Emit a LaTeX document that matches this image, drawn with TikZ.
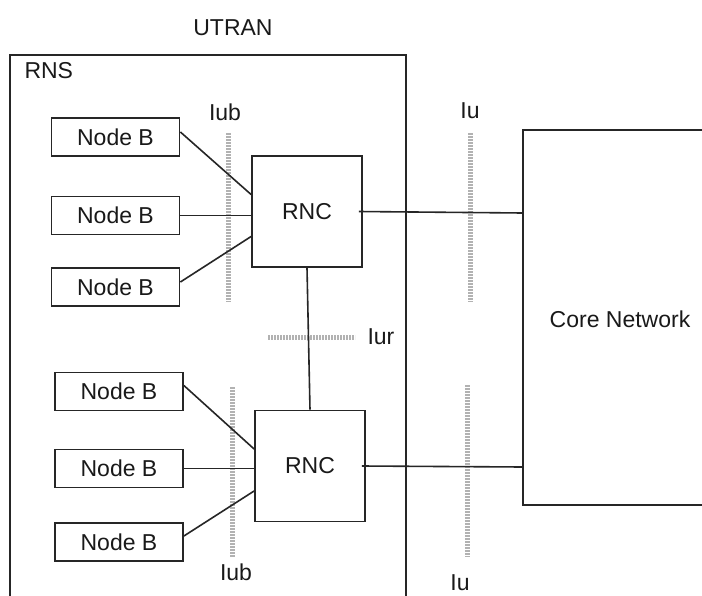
\documentclass[tikz,border=0pt]{standalone}
\usepackage{fontspec}
\setmainfont{Liberation Sans}
\begin{document}
\begin{tikzpicture}[x=1pt,y=-1pt,
  every node/.style={font=\fontsize{23}{26}\selectfont, text=black!90},
  box/.style={draw=black!85, line width=1.8pt, inner sep=0pt},
  nodeb/.style={box, minimum width=128pt, minimum height=38pt},
  rnc/.style={box, minimum width=110pt, minimum height=111pt},
  link/.style={draw=black!85, line width=1.6pt},
  frame/.style={draw=black!85, line width=1.9pt},
  iface/.style={draw=black!30, line width=5pt, dash pattern=on 2pt off 1pt}
]
\useasboundingbox (0,0) rectangle (702,595);
\fill[white] (0,0) rectangle (702,595);

% outer RNS / UTRAN frame
\draw[frame] (10,596) -- (10,55) -- (406,55) -- (406,596);
\node (utran) at (233,28) {UTRAN};
\node[anchor=west] (rns) at (21,71) {RNS};

% core network frame
\draw[frame] (703,130) -- (523,130) -- (523,505) -- (703,505);
\coordinate (cnA) at (523,213);
\coordinate (cnB) at (523,467);
\node (cn) at (620,319) {Core Network};

% interface markers
\coordinate (iubAt) at (228,133); \coordinate (iubAb) at (228,302);
\coordinate (iubBt) at (232,387); \coordinate (iubBb) at (232,557);
\coordinate (iuAt) at (470,133);  \coordinate (iuAb) at (470,302);
\coordinate (iuBt) at (467,385);  \coordinate (iuBb) at (467,557);
\coordinate (iurL) at (268,337);  \coordinate (iurR) at (355,337);
\draw[iface] (iubAt) -- (iubAb);
\draw[iface] (iubBt) -- (iubBb);
\draw[iface] (iuAt) -- (iuAb);
\draw[iface] (iuBt) -- (iuBb);
\draw[iface] (iurL) -- (iurR);
\node (iubA) at (225,112) {Iub};
\node (iubB) at (236,572) {Iub};
\node (iuA) at (470,111) {Iu};
\node (iuB) at (460,583) {Iu};
\node[anchor=west] (iur) at (364,337) {Iur};

% top group
\node[nodeb] (nb1) at (115.5,137) {Node B};
\node[nodeb] (nb2) at (115.5,215.5) {Node B};
\node[nodeb] (nb3) at (115.5,287) {Node B};
\node[rnc] (rnc1) at (307,211.5) {RNC};

% bottom group
\node[nodeb] (nb4) at (119,391.5) {Node B};
\node[nodeb] (nb5) at (119,468.5) {Node B};
\node[nodeb] (nb6) at (119,542) {Node B};
\node[rnc] (rnc2) at (310,466) {RNC};

% connectors
\draw[link] ([yshift=5pt]nb1.east) -- ([yshift=17pt]rnc1.west);
\draw[link] (nb2.east) -- (nb2.east -| rnc1.west);
\draw[link] ([yshift=5pt]nb3.east) -- ([yshift=-25pt]rnc1.west);
\draw[link] ([yshift=6pt]nb4.east) -- ([yshift=17pt]rnc2.west);
\draw[link] (nb5.east) -- (nb5.east -| rnc2.west);
\draw[link] ([yshift=6pt]nb6.east) -- ([yshift=-25pt]rnc2.west);
\draw[link] (rnc1.south) -- (rnc2.north);
\draw[link] ([xshift=-4pt]rnc1.east) -- (cnA);
\draw[link] ([xshift=-4pt]rnc2.east) -- (cnB);
\end{tikzpicture}
\end{document}
